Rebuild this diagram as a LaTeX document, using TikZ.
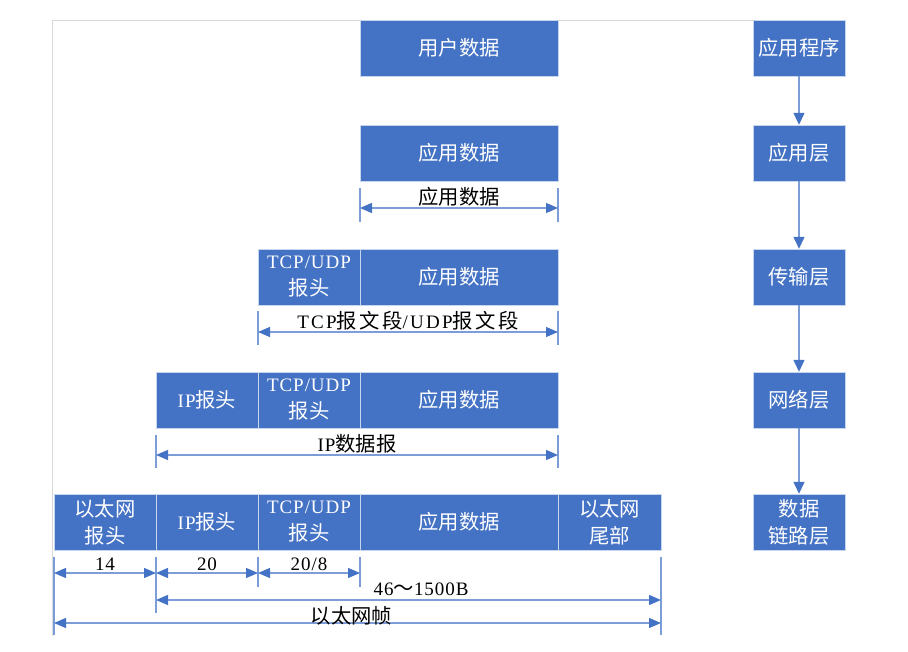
\documentclass[tikz,border=0pt]{standalone}
\usepackage{fontspec}
\setmainfont{Liberation Serif}[LetterSpace=5]
\newfontfamily\cjk[Scale=1.07]{Noto Sans CJK SC}
\newfontfamily\widelat{Liberation Serif}[LetterSpace=12]
\newfontfamily\widecjk[Scale=1.07,LetterSpace=12]{Noto Sans CJK SC}
\newcommand{\zh}[1]{{\cjk #1}}
\newcommand{\wzh}[1]{{\widecjk #1}}
\usetikzlibrary{arrows.meta}
\definecolor{boxblue}{HTML}{4472C4}
\definecolor{lineblue}{HTML}{7C9DD8}
\definecolor{framegray}{HTML}{D9D9D9}
\tikzset{
  blk/.style={draw=white!70!boxblue, fill=boxblue, text=white, minimum height=56pt,
    inner sep=0pt, align=center, font=\fontsize{19}{27}\selectfont},
  hdr/.style={blk, minimum width=102pt},
  dat/.style={blk, minimum width=198pt},
  lay/.style={blk, minimum width=92pt},
  lbl/.style={font=\fontsize{19}{22}\selectfont, text=black, inner sep=1pt},
  dim/.style={lineblue, line width=1.3pt,
    {Triangle[length=12pt,width=10pt,color=boxblue]}-{Triangle[length=12pt,width=10pt,color=boxblue]}},
  flow/.style={lineblue, line width=1.3pt, -{Triangle[length=12pt,width=11pt,color=boxblue]}}
}
\begin{document}
\begin{tikzpicture}[x=1pt,y=-1pt]
\useasboundingbox (0,0) rectangle (908,652);
\draw[framegray] (52,636) -- (52,20) -- (753,20);
% packets
\path
(459,48) node[dat] (ud) {\zh{用户数据}}
(459,153) node[dat] (ad2) {\zh{应用数据}}
(309,277) node[hdr] (th3) {TCP/UDP\\\zh{报头}}
(459,277) node[dat] (ad3) {\zh{应用数据}}
(207,400) node[hdr] (ih4) {IP\zh{报头}}
(309,400) node[hdr] (th4) {TCP/UDP\\\zh{报头}}
(459,400) node[dat] (ad4) {\zh{应用数据}}
(105,522) node[hdr] (eh5) {\zh{以太网}\\\zh{报头}}
(207,522) node[hdr] (ih5) {IP\zh{报头}}
(309,522) node[hdr] (th5) {TCP/UDP\\\zh{报头}}
(459,522) node[dat] (ad5) {\zh{应用数据}}
(609.5,522) node[hdr,minimum width=103pt] (et5) {\zh{以太网}\\\zh{尾部}};
% layers
\path
(799,48) node[lay] (app) {\zh{应用程序}}
(799,153) node[lay] (al) {\zh{应用层}}
(799,277) node[lay] (tl) {\zh{传输层}}
(799,400) node[lay] (nl) {\zh{网络层}}
(799,522) node[lay] (dl) {\zh{数据}\\\zh{链路层}};
\draw[flow] (app) -- (al);
\draw[flow] (al) -- (tl);
\draw[flow] (tl) -- (nl);
\draw[flow] (nl) -- (dl);
% ticks
\foreach \x/\ya/\yb in {360/188/222, 558/188/222, 258/311/345, 558/311/345,
  156/435/468, 558/435/468, 54/557/635, 156/557/613, 258/557/587, 360/557/587, 661/557/635}
  \draw[lineblue, line width=1.3pt] (\x,\ya) -- (\x,\yb);
% lengths
\path
(360,208) coordinate (a2l) (558,208) coordinate (a2r)
(258,332) coordinate (a3l) (558,332) coordinate (a3r)
(156,455) coordinate (a4l) (558,455) coordinate (a4r)
(54,573) coordinate (e0) (156,573) coordinate (e1) (258,573) coordinate (e2) (360,573) coordinate (e3)
(156,600) coordinate (p0) (661,600) coordinate (p1)
(54,623) coordinate (f0) (661,623) coordinate (f1);
\draw[dim] (a2l) to node[lbl,above] {\zh{应用数据}} (a2r);
\draw[dim] (a3l) to node[lbl,above] {\widelat TCP\wzh{报文段}/UDP\wzh{报文段}} (a3r);
\draw[dim] (a4l) to node[lbl,above] {IP\zh{数据报}} (a4r);
\draw[dim] (e0) to node[lbl,above,yshift=1pt] {14} (e1);
\draw[dim] (e1) to node[lbl,above,yshift=1pt] {20} (e2);
\draw[dim] (e2) to node[lbl,above,yshift=1pt] {20/8} (e3);
\draw[dim] (p0) to node[lbl,above,pos=0.525,yshift=3pt] {46\zh{～}1500B} (p1);
\draw[dim] (f0) to node[lbl,above,pos=0.49,yshift=-4pt] {\zh{以太网帧}} (f1);
\end{tikzpicture}
\end{document}
